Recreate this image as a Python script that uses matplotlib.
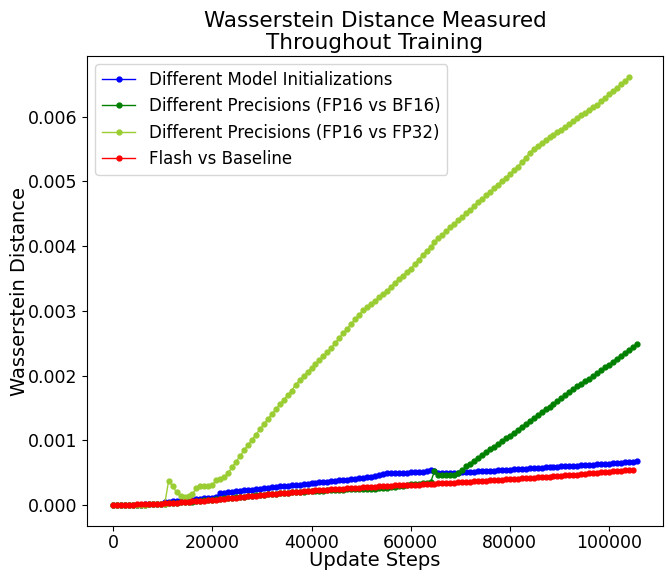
import matplotlib.pyplot as plt
import numpy as np

# logged every 800 update steps, values in units of 1e-6
log_every = 800

model_init = [
    0, 1, 2, 3, 4, 5, 6, 8, 10, 12, 14, 16, 18,
    50, 55, 60, 64, 68, 72, 77, 82, 88, 95, 102, 108, 114, 120,
    188, 194, 199, 205, 211, 218, 226, 233, 240, 247, 254,
    262, 268, 274, 280, 287, 293, 299, 305, 311, 317, 323, 330, 337,
    343, 350, 356, 362, 369, 375, 382, 388, 395, 402, 409, 416,
    423, 430, 437, 446, 462, 478, 490,
    496, 498, 500, 502, 503, 505, 507, 510, 514,
    525, 535, 532,
    500, 492, 490, 493, 497, 502,
    507, 510, 514, 518, 520, 523, 527, 530, 534, 537, 540, 544, 548,
    552, 556, 559, 563, 567, 570, 574, 578, 582, 585, 589, 593,
    597, 600, 604, 608, 611, 615, 619, 622, 626, 630, 634, 637, 641,
    645, 652, 657, 662, 667, 672, 676,
]

fp16_bf16 = [
    0, 1, 2, 3, 4, 5, 6, 7, 8, 9, 10, 11, 12,
    20, 25, 30, 35, 40, 45, 50, 55, 60, 66, 72, 78, 84, 90,
    96, 102, 108, 114, 120, 126, 132, 138, 144, 150, 156,
    162, 167, 172, 177, 182, 187, 192, 196, 200, 204, 208, 212, 216,
    219, 222, 225, 228, 231, 234, 237, 240, 242, 244, 246, 248,
    250, 252, 254, 256, 258, 262, 266, 272, 280, 290, 300, 310, 318,
    325, 332, 340, 347, 352,
    520, 470, 462, 460, 462, 470, 500,
    548, 596, 642, 688, 733, 778, 820, 862, 904, 946, 988, 1030, 1073,
    1117, 1162, 1207, 1252, 1298, 1345, 1390, 1434, 1478, 1522, 1565, 1608,
    1651, 1698, 1745, 1790, 1835, 1878, 1920,
    1950, 1994, 2038, 2082, 2126, 2170, 2215, 2260, 2305, 2350, 2396, 2442, 2490,
]

fp16_fp32 = [
    0, 1, 2, 3, 4, 5, 6, 7, 8, 9, 10, 11, 12,
    20, 379, 287, 200, 133, 123, 133, 174, 266, 290, 300, 302, 305,
    389, 405, 430, 500, 584, 670, 760, 845, 930, 1010, 1090, 1170,
    1250, 1330, 1405, 1480, 1555, 1628, 1700, 1770, 1860, 1925, 1990, 2055, 2120,
    2180, 2240, 2300, 2360, 2430, 2505, 2580, 2655, 2725, 2800, 2870, 2940,
    3010, 3060, 3110, 3160, 3210, 3260, 3315, 3370, 3430, 3490, 3545, 3600, 3655,
    3720, 3790, 3860, 3925, 3990, 4060, 4125,
    4180, 4235, 4290, 4345, 4400, 4455, 4510, 4565, 4620, 4675, 4730, 4785,
    4840, 4895, 4950, 5005, 5060, 5115, 5170, 5230,
    5300, 5370, 5440, 5500,
    5545, 5590, 5635, 5680, 5720, 5760, 5800, 5845, 5890, 5935, 5980, 6020,
    6065, 6110, 6150, 6185,
    6240, 6295, 6350, 6400, 6450, 6505, 6555, 6610,
]

flash = [
    0, 2, 3, 5, 6, 8, 9, 11, 13, 15, 17, 20, 23,
    27, 31, 35, 39, 43, 47, 52, 56, 60, 64, 69, 73,
    79,
    86, 93, 99, 105, 111, 117, 123, 129, 135, 141, 147, 153,
    159, 165, 170, 176, 181, 187, 192, 197, 203, 208, 213, 219, 225,
    229, 232, 236, 240, 243, 247, 250, 254, 258, 261, 265, 270,
    274, 277, 280, 283, 287, 296, 300, 302, 303, 305, 306, 307, 309,
    312, 316, 320, 324, 327, 331, 334, 338, 341, 345, 348, 352,
    355, 359, 363, 366, 370, 374, 378, 381, 385, 389, 392, 396, 400,
    404, 408, 412, 415, 419, 423, 427, 431, 435, 439, 443, 447,
    452, 457, 462, 467, 472, 478, 484, 489, 494, 499, 504, 509, 515,
    520, 527, 533, 538, 543, 548,
]

series = [
    ("Different Model Initializations", model_init, "blue"),
    ("Different Precisions (FP16 vs BF16)", fp16_bf16, "green"),
    ("Different Precisions (FP16 vs FP32)", fp16_fp32, "yellowgreen"),
    ("Flash vs Baseline", flash, "red"),
]

fig = plt.figure(figsize=(6.69, 5.76), dpi=100)
ax = fig.add_axes([0.130, 0.086, 0.861, 0.817])

for name, vals, color in series:
    steps = np.arange(len(vals)) * log_every
    ax.plot(steps, np.array(vals) * 1e-6, marker='o', markersize=3.5,
            linewidth=1, color=color, label=name)

ax.set_title("Wasserstein Distance Measured\nThroughout Training", fontsize=15.5,
             linespacing=1.1, pad=5)
ax.set_xlabel("Update Steps", fontsize=14, labelpad=-1)
ax.set_ylabel("Wasserstein Distance", fontsize=14, labelpad=-1)
ax.tick_params(axis='both', labelsize=12.5)
ax.tick_params(axis='x', pad=2)
ax.set_xticks([0, 20000, 40000, 60000, 80000, 100000])
ax.set_yticks([0, 0.001, 0.002, 0.003, 0.004, 0.005, 0.006])
ax.set_yticklabels(["0.000", "0.001", "0.002", "0.003", "0.004", "0.005", "0.006"])
ax.legend(loc='upper left', fontsize=12)

fig.savefig('out.png', dpi=100)
